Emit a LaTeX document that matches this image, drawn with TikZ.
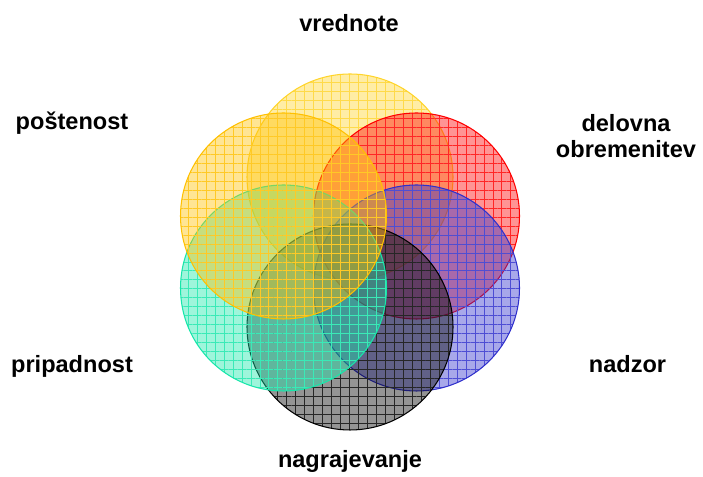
\documentclass[tikz,border=0pt]{standalone}
\usepackage{fontspec}
\setsansfont{Liberation Sans}
\usepackage{xcolor}
\definecolor{vennyellow}{HTML}{FFD42A}
\definecolor{venngold}{HTML}{FFC000}
\definecolor{vennred}{HTML}{FF0000}
\definecolor{vennblue}{HTML}{2F2FCC}
\definecolor{venngreen}{HTML}{17E6AA}
\definecolor{vennblack}{HTML}{000000}
\usepackage{tikz}
\usetikzlibrary{
  patterns.meta,
}

\begin{document}
\begin{tikzpicture}[
  set/.style={
    circle, minimum size=4.12cm, inner sep=0pt,
    draw=#1, line width=0.6pt,
    preaction={fill=#1, fill opacity=0.42},
    pattern={Hatch[angle=0, distance=5.1pt, line width=0.45pt]},
    pattern color=#1!85,
  },
  tag/.style={
    font=\sffamily\bfseries\fontsize{13.4}{14.8}\selectfont,
    text=black, align=center, inner sep=0pt,
  },
]
  \useasboundingbox (0,0) rectangle (14.06,9.54);

  % --- the six sets, clockwise from the top ---
  \node[set=vennyellow] (c-vred)  at (7.00,6.00) {};
  \node[set=vennred]    (c-delo)  at (8.33,5.22) {};
  \node[set=vennblue]   (c-nadz)  at (8.33,3.78) {};
  \node[set=vennblack]  (c-nagr)  at (7.00,3.00) {};
  \node[set=venngreen]  (c-prip)  at (5.67,3.78) {};
  \node[set=venngold]   (c-post)  at (5.67,5.22) {};

  % --- labels ---
  \node[tag, anchor=base] (l-vred) at (6.98,8.90) {vrednote};
  \node[tag, anchor=base] (l-post) at (1.44,6.94) {poštenost};
  \node[tag]              (l-delo) at (12.52,6.82) {delovna\\obremenitev};
  \node[tag, anchor=base] (l-prip) at (1.44,2.08) {pripadnost};
  \node[tag, anchor=base] (l-nadz) at (12.55,2.08) {nadzor};
  \node[tag, anchor=base] (l-nagr) at (7.00,0.18) {nagrajevanje};
\end{tikzpicture}
\end{document}
